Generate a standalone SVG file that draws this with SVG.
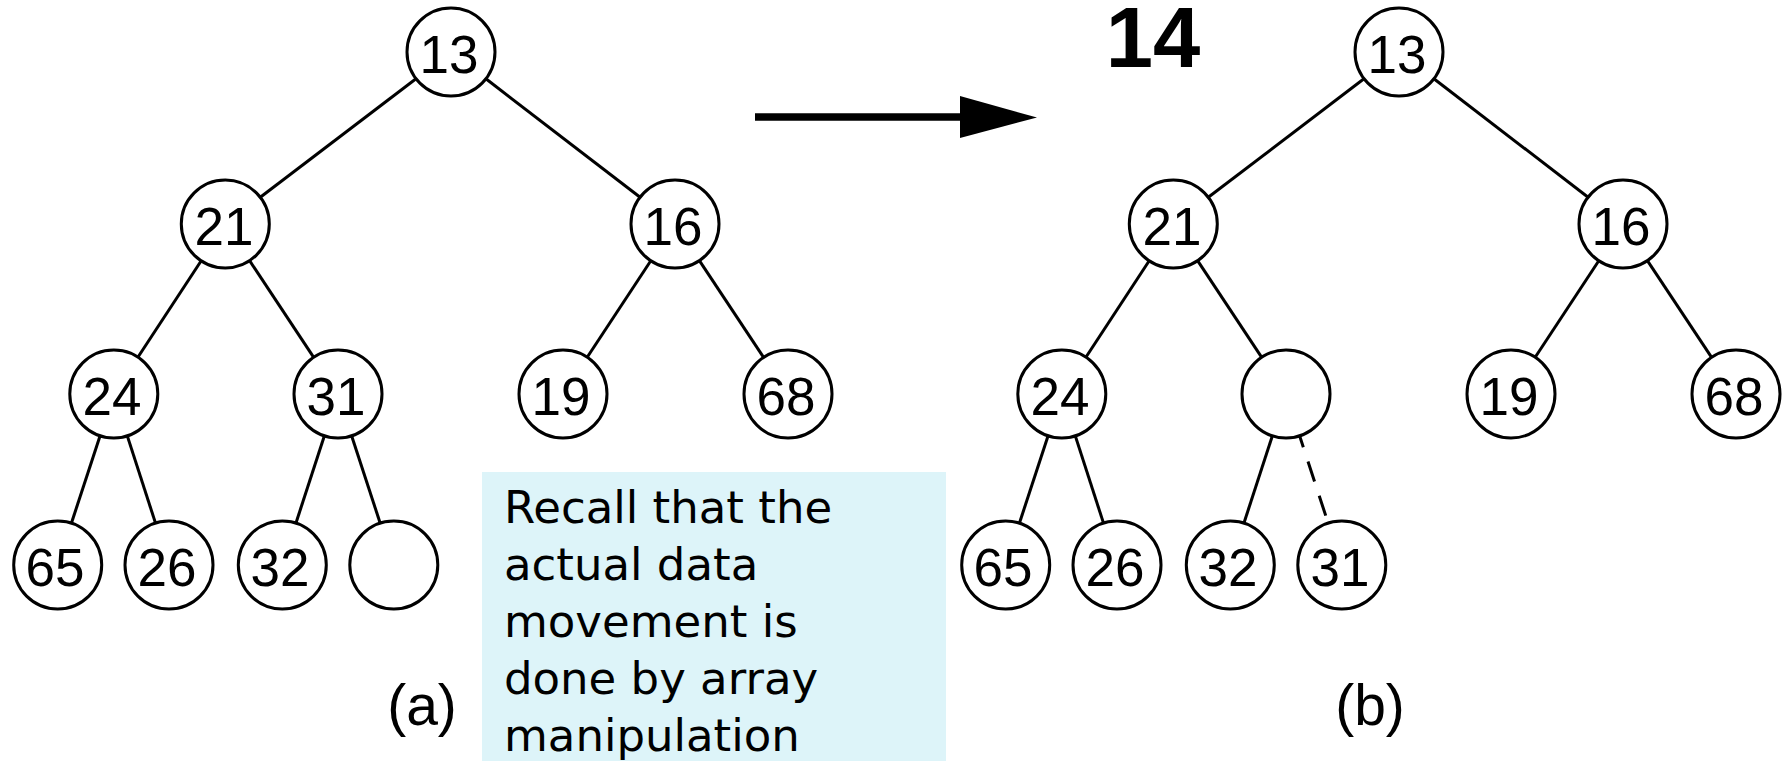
<svg xmlns="http://www.w3.org/2000/svg" width="1787" height="761" viewBox="0 0 1787 761">
<style>
.n circle{fill:#fff;stroke:#000;stroke-width:3}
.n text{font-family:"Liberation Sans",Arial,sans-serif;font-size:53px;text-anchor:middle;fill:#000}
.e line{stroke:#000;stroke-width:3}
.e line.arrow{stroke-width:7.5}
.lbl{font-family:"Liberation Sans",Arial,sans-serif;font-size:57px;text-anchor:middle;fill:#000}
.note{font-family:"DejaVu Sans",Verdana,sans-serif;font-size:45px;fill:#000}
</style>
<defs>
<marker id="ah" markerUnits="userSpaceOnUse" markerWidth="78" markerHeight="44" refX="0" refY="21" orient="auto" viewBox="0 0 78 44">
<path d="M0,0 L77,21.5 L0,42 z" fill="#000"/>
</marker>
</defs>
<rect width="1787" height="761" fill="#fff"/>
<g id="connectors" class="e">
<line x1="416.0" y1="78.7" x2="260.3" y2="197.3"/>
<line x1="485.9" y1="78.8" x2="640.1" y2="197.2"/>
<line x1="201.2" y1="260.8" x2="137.9" y2="357.2"/>
<line x1="249.6" y1="260.7" x2="313.7" y2="357.3"/>
<line x1="650.8" y1="260.7" x2="587.2" y2="357.3"/>
<line x1="699.4" y1="260.6" x2="763.6" y2="357.4"/>
<line x1="100.1" y1="435.8" x2="71.4" y2="523.2"/>
<line x1="127.3" y1="435.9" x2="155.5" y2="523.1"/>
<line x1="324.4" y1="435.8" x2="295.9" y2="523.2"/>
<line x1="351.6" y1="435.8" x2="380.2" y2="523.2"/>
<line x1="1364.0" y1="78.7" x2="1208.3" y2="197.3"/>
<line x1="1433.9" y1="78.8" x2="1588.1" y2="197.2"/>
<line x1="1149.2" y1="260.8" x2="1085.9" y2="357.2"/>
<line x1="1197.6" y1="260.7" x2="1261.7" y2="357.3"/>
<line x1="1598.8" y1="260.7" x2="1535.2" y2="357.3"/>
<line x1="1647.4" y1="260.6" x2="1711.6" y2="357.4"/>
<line x1="1048.1" y1="435.8" x2="1019.4" y2="523.2"/>
<line x1="1075.3" y1="435.9" x2="1103.5" y2="523.1"/>
<line x1="1272.4" y1="435.8" x2="1243.9" y2="523.2"/>
<line x1="1299.6" y1="435.8" x2="1328.2" y2="523.2" stroke-dasharray="21 15" stroke-dashoffset="9"/>
<line class="arrow" x1="755" y1="117" x2="960" y2="117" marker-end="url(#ah)"/>
</g>
<g id="a-13" class="n"><circle cx="451" cy="52" r="44"/><text x="449" y="72.5">13</text></g>
<g id="a-21" class="n"><circle cx="225.3" cy="224" r="44"/><text x="224" y="244.5">21</text></g>
<g id="a-16" class="n"><circle cx="675" cy="224" r="44"/><text x="673" y="244.5">16</text></g>
<g id="a-24" class="n"><circle cx="113.8" cy="394" r="44"/><text x="112" y="414.5">24</text></g>
<g id="a-31" class="n"><circle cx="338" cy="394" r="44"/><text x="336" y="414.5">31</text></g>
<g id="a-19" class="n"><circle cx="563" cy="394" r="44"/><text x="561" y="414.5">19</text></g>
<g id="a-68" class="n"><circle cx="788" cy="394" r="44"/><text x="786" y="414.5">68</text></g>
<g id="a-65" class="n"><circle cx="57.7" cy="565" r="44"/><text x="55" y="585.5">65</text></g>
<g id="a-26" class="n"><circle cx="169" cy="565" r="44"/><text x="167" y="585.5">26</text></g>
<g id="a-32" class="n"><circle cx="282.3" cy="565" r="44"/><text x="280" y="585.5">32</text></g>
<g id="a-hole" class="n"><circle cx="393.8" cy="565" r="44"/></g>
<g id="b-13" class="n"><circle cx="1399" cy="52" r="44"/><text x="1397" y="72.5">13</text></g>
<g id="b-21" class="n"><circle cx="1173.3" cy="224" r="44"/><text x="1172" y="244.5">21</text></g>
<g id="b-16" class="n"><circle cx="1623" cy="224" r="44"/><text x="1621" y="244.5">16</text></g>
<g id="b-24" class="n"><circle cx="1061.8" cy="394" r="44"/><text x="1060" y="414.5">24</text></g>
<g id="b-hole" class="n"><circle cx="1286" cy="394" r="44"/></g>
<g id="b-19" class="n"><circle cx="1511" cy="394" r="44"/><text x="1509" y="414.5">19</text></g>
<g id="b-68" class="n"><circle cx="1736" cy="394" r="44"/><text x="1734" y="414.5">68</text></g>
<g id="b-65" class="n"><circle cx="1005.7" cy="565" r="44"/><text x="1003" y="585.5">65</text></g>
<g id="b-26" class="n"><circle cx="1117" cy="565" r="44"/><text x="1115" y="585.5">26</text></g>
<g id="b-32" class="n"><circle cx="1230.3" cy="565" r="44"/><text x="1228" y="585.5">32</text></g>
<g id="b-31" class="n"><circle cx="1341.8" cy="565" r="44"/><text x="1340" y="585.5">31</text></g>
<text x="1153" y="66.7" font-family="Liberation Sans, Arial, sans-serif" font-size="85" font-weight="bold" text-anchor="middle">14</text>
<text class="lbl" x="422" y="725">(a)</text>
<text class="lbl" x="1370" y="725">(b)</text>
<g id="note">
<rect x="482" y="472" width="464" height="289" fill="#DDF4F9"/>
<text class="note" x="504" y="523">Recall that the</text>
<text class="note" x="504" y="580">actual data</text>
<text class="note" x="504" y="637">movement is</text>
<text class="note" x="504" y="694">done by array</text>
<text class="note" x="504" y="751">manipulation</text>
</g>
</svg>
